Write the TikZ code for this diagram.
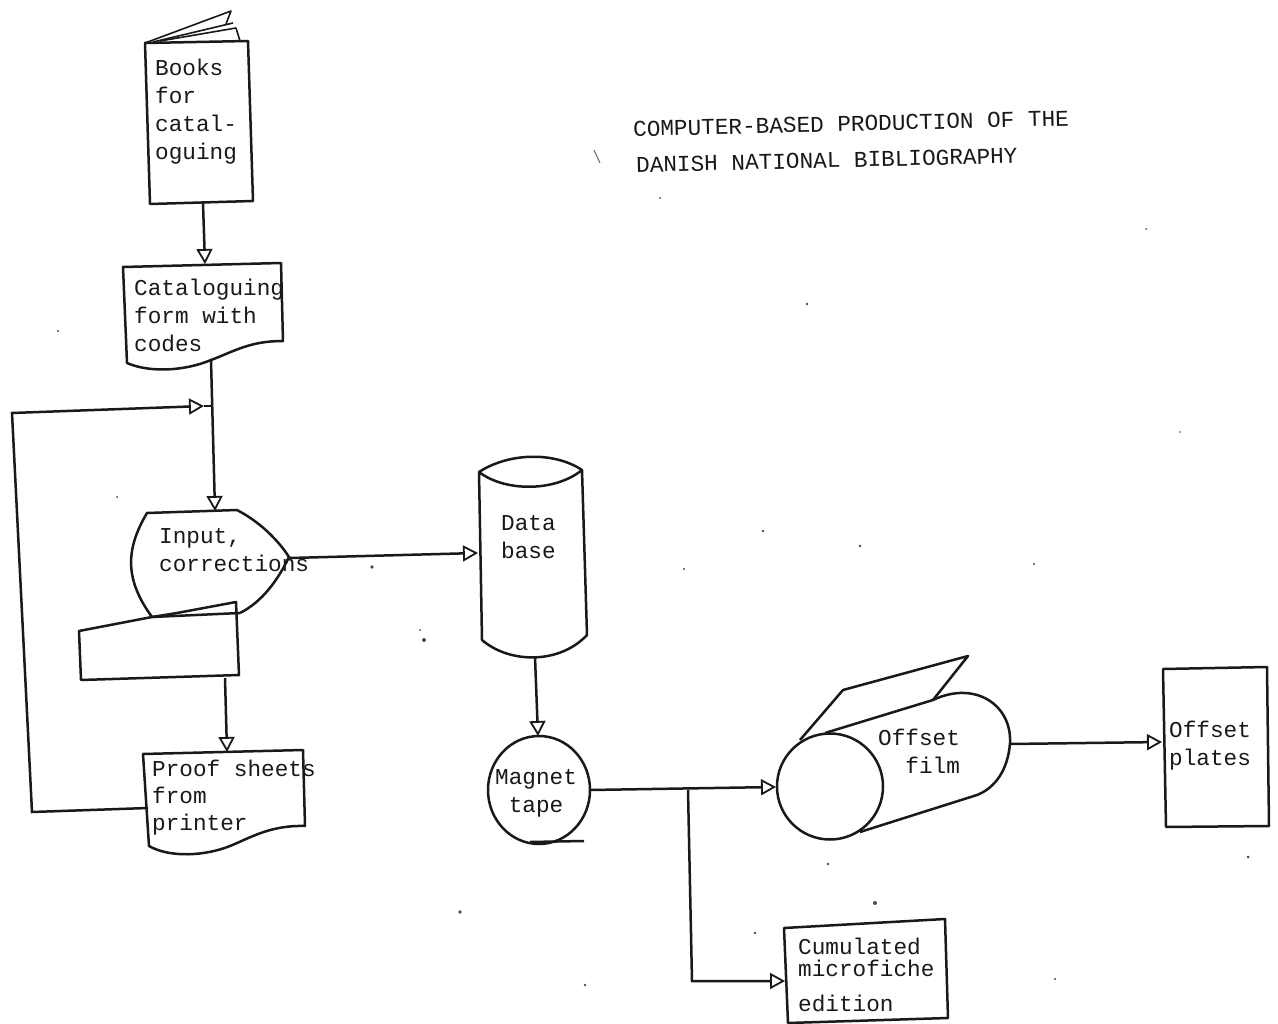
\documentclass[tikz,border=0pt]{standalone}
\usepackage{fontspec}
\setmonofont{Liberation Mono}
\usetikzlibrary{arrows.meta}
\tikzset{
  outline/.style={draw=black!90,line width=2.5pt,line join=round},
  thin outline/.style={draw=black!90,line width=1.6pt,line join=round},
  flow/.style={draw=black!90,line width=2.5pt,-{Triangle[open,length=15pt,width=16pt,line width=1.8pt]}},
  plainflow/.style={draw=black!90,line width=2.5pt},
  label/.style={inner sep=0pt,anchor=north west,align=left,font=\fontsize{22.7}{28}\selectfont\ttfamily,text=black!90},
  speck/.style={fill=black!70,draw=none}
}
\begin{document}
\begin{tikzpicture}[x=1pt,y=-1pt]
\useasboundingbox (0,0) rectangle (1278,1024);
\fill[white] (0,0) rectangle (1278,1024);

% specks
\foreach \p/\r in {{372,567}/1.8,{424,640}/2,{420,630}/1,{875,903}/2,{460,912}/1.8,{585,985}/1.4,{807,304}/1.3,{860,546}/1.3,{763,531}/1.3,{684,569}/1.2,{1034,564}/1.2,{1248,857}/1.5,{828,864}/1.3,{755,933}/1.3,{1055,979}/1.2,{1146,229}/1,{58,331}/1.2,{660,198}/1,{117,497}/1,{1180,432}/0.9}
  \fill[speck] (\p) circle (\r);
\draw[black!60,line width=1pt] (594,150) -- (600,163);

% Books
\draw[outline] (145,43) -- (248,41) -- (253,201) -- (150,204) -- cycle;
\draw[thin outline] (145,43) -- (231,11) -- (226,24);
\draw[thin outline] (153,42) -- (233,23);
\draw[thin outline] (160,41) -- (236,28) -- (240,41);
\coordinate (booksS) at (203,203);
\node[label] (books) at (155,59) {Books\\for\\catal-\\oguing};

% Cataloguing form
\draw[outline] (123,267) -- (281,263) -- (283,341) .. controls (250,341) and (235,351) .. (211,360) .. controls (185,371) and (150,373) .. (127,363) -- cycle;
\coordinate (formN) at (205,264);
\coordinate (formS) at (211,360);
\node[label] (form) at (134,279) {Cataloguing\\form with\\codes};

% Input, corrections
\draw[outline] (152,617) .. controls (125,580) and (125,550) .. (147,513) -- (237,510) .. controls (260,522) and (278,540) .. (289,557) .. controls (278,580) and (262,602) .. (240,613);
\coordinate (inputN) at (215,511);
\coordinate (inputE) at (290,558);
\coordinate (junction) at (212,406);
\coordinate (junctionIn) at (204,406);
\node[label] (input) at (159,528) {Input,\\corrections};

% Printer
\draw[outline] (79,631) -- (152,617) -- (177,613) -- (236,602) -- (239,675) -- (81,680) -- cycle;
\draw[outline] (152,617) -- (240,613);
\coordinate (printerS) at (225,678);

% Proof sheets
\draw[outline] (143,754) -- (303,750) -- (305,826) .. controls (270,825) and (250,838) .. (230,846) .. controls (205,856) and (170,858) .. (149,846) -- cycle;
\coordinate (proofN) at (227,752);
\coordinate (proofW) at (148,808);
\node[label] (proof) at (152,760) {Proof sheets\\[-1pt]from\\[-1pt]printer};

% Data base
\draw[outline] (479,472) .. controls (510,452) and (555,452) .. (582,470) .. controls (555,492) and (505,492) .. (479,472) -- (482,640) .. controls (510,664) and (560,664) .. (587,635) -- (582,470);
\coordinate (baseW) at (478,553);
\coordinate (baseS) at (535,657);
\node[label,align=center] (base) at (501,515) {Data\\base};

% Magnet tape
\draw[outline] (539,790) ellipse [x radius=51,y radius=54];
\draw[outline] (530,842) -- (584,841);
\coordinate (tapeN) at (538,736);
\coordinate (tapeE) at (590,790);
\coordinate (branch) at (688,790);
\coordinate (branchLow) at (692,981);
\node[label,align=center] (tape) at (495,769) {Magnet\\tape};

% Offset film
\draw[outline] (830,786.5) circle (53);
\draw[outline] (800,740) -- (843,690) -- (968,656) -- (933,700);
\draw[outline] (825,733) -- (933,700) .. controls (975,680) and (1012,705) .. (1010,743) .. controls (1008,770) and (995,788) .. (977,795) -- (860,832);
\coordinate (filmW) at (776,787);
\coordinate (filmE) at (1010,744);
\node[label,align=right] (film) at (878,729) {Offset\\film};

% Offset plates
\draw[outline] (1163,669) -- (1267,667) -- (1269,826) -- (1166,827) -- cycle;
\coordinate (platesW) at (1162,742);
\node[label] (plates) at (1169,721) {Offset\\plates};

% Microfiche
\draw[outline] (784,928) -- (945,919) -- (948,1018) -- (788,1023) -- cycle;
\coordinate (ficheW) at (785,981);
\node[label] (fiche) at (798,938) {Cumulated\\[-6pt]microfiche\\[7pt]edition};

% Title
\node[label,rotate=1.4,anchor=west] (title) at (633,129) {COMPUTER-BASED PRODUCTION OF THE};
\node[label,rotate=1.4,anchor=west] (title2) at (636,165) {DANISH NATIONAL BIBLIOGRAPHY};

% Connectors
\draw[flow] (booksS) -- (formN);
\draw[flow] (formS) -- (inputN);
\draw[flow] (printerS) -- (proofN);
\draw[flow] (inputE) -- (baseW);
\draw[flow] (baseS) -- (tapeN);
\draw[flow] (tapeE) -- (filmW);
\draw[flow] (branch) -- (branchLow) -- (ficheW);
\draw[flow] (filmE) -- (platesW);
\draw[flow] (proofW) -- (32,812) -- (12,413) -- (junctionIn);
\draw[plainflow] (junctionIn) -- (junction);
\end{tikzpicture}
\end{document}
